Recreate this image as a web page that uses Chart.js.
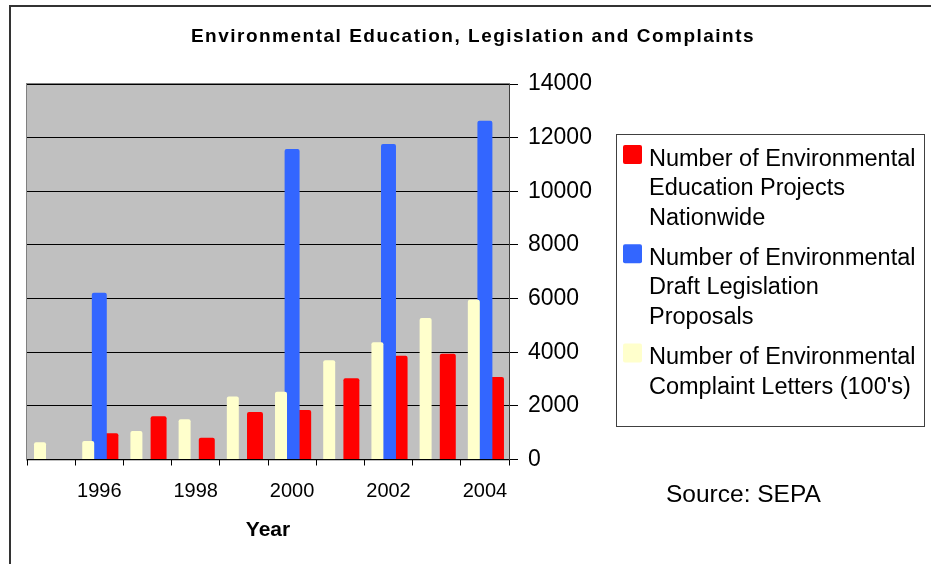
<!DOCTYPE html>
<html>
<head>
<meta charset="utf-8">
<title>Environmental Education, Legislation and Complaints</title>
<script src="https://cdn.jsdelivr.net/npm/chart.js@4.4.1/dist/chart.umd.min.js"></script>
<style>
  html, body { margin: 0; padding: 0; background: #ffffff; }
  #chart { display: block; }
</style>
</head>
<body>
<canvas id="chart" width="931" height="564"></canvas>
<script>
// Data

const YEARS = ['1995', '1996', '1997', '1998', '1999', '2000', '2001', '2002', '2003', '2004'];

const EDUCATION_PROJECTS = [null, 980, 1610, 810, 1770, 1850, 3030, 3870, 3940, 3080];
const DRAFT_LEGISLATION  = [null, 6220, null, null, null, 11580, null, 11760, null, 12630];
const COMPLAINT_LETTERS  = [640, 690, 1060, 1500, 2350, 2530, 3700, 4370, 5280, 5960];

const Y_TICKS = [0, 2000, 4000, 6000, 8000, 10000, 12000, 14000];

const TITLE       = 'Environmental Education, Legislation and Complaints';
const X_TITLE     = 'Year';
const SOURCE_NOTE = 'Source: SEPA';

const LEGEND_LINES = [
  ['Number of Environmental', 'Education Projects', 'Nationwide'],
  ['Number of Environmental', 'Draft Legislation', 'Proposals'],
  ['Number of Environmental', 'Complaint Letters (100\'s)'],
];

const RED    = '#FF0000';
const BLUE   = '#3366FF';
const CREAM  = '#FFFFCC';
const PLOT_BG = '#C0C0C0';
const FONT = '"Liberation Sans", Arial, sans-serif';

Chart.defaults.font.family = FONT;
Chart.defaults.color = '#000000';

// Page decoration: outer frame, grey plot area, title, legend box, source note
const decorations = {
  id: 'decorations',
  beforeDraw(chart) {
    const { ctx, chartArea: a } = chart;
    ctx.save();
    ctx.fillStyle = '#ffffff';
    ctx.fillRect(0, 0, chart.width, chart.height);
    ctx.fillStyle = '#333333';
    ctx.fillRect(9, 5, chart.width - 9, 2);
    ctx.fillRect(9, 5, 2, chart.height - 5);
    ctx.fillStyle = PLOT_BG;
    ctx.fillRect(a.left, a.top, a.right - a.left, a.bottom - a.top);
    ctx.strokeStyle = '#808080';
    ctx.lineWidth = 1;
    ctx.strokeRect(a.left - 0.5, a.top - 0.5, a.right - a.left + 1, a.bottom - a.top + 1);
    ctx.restore();
  },
  afterDraw(chart) {
    const { ctx } = chart;
    ctx.save();
    // title
    ctx.fillStyle = '#000000';
    ctx.font = `bold 19px ${FONT}`;
    ctx.letterSpacing = '1.5px';
    ctx.textAlign = 'center';
    ctx.textBaseline = 'alphabetic';
    ctx.fillText(TITLE, 473, 42);
    ctx.letterSpacing = '0px';

    // legend box
    ctx.strokeStyle = '#404040';
    ctx.lineWidth = 1;
    ctx.strokeRect(616.5, 134.5, 308, 292);
    const colors = [RED, BLUE, CREAM];
    ctx.font = `23.5px ${FONT}`;
    ctx.textAlign = 'left';
    LEGEND_LINES.forEach((lines, i) => {
      const base = 165.5 + i * 99.3;
      ctx.fillStyle = colors[i];
      ctx.beginPath();
      ctx.roundRect(623, base - 20.5, 19, 19, 2);
      ctx.fill();
      ctx.fillStyle = '#000000';
      lines.forEach((t, j) => ctx.fillText(t, 649, base + j * 29.5));
    });

    // source note
    ctx.font = `24.5px ${FONT}`;
    ctx.fillText(SOURCE_NOTE, 666, 502);
    ctx.restore();
  },
};

new Chart(document.getElementById('chart'), {
  type: 'bar',
  data: {
    labels: YEARS,
    datasets: [
      {
        label: LEGEND_LINES[0].join(' '),
        data: EDUCATION_PROJECTS,
        backgroundColor: RED,
        order: 2,
        barPercentage: 1.44,
        categoryPercentage: 0.69,
        borderRadius: 2,
      },
      {
        label: LEGEND_LINES[1].join(' '),
        data: DRAFT_LEGISLATION,
        backgroundColor: BLUE,
        order: 1,
        barPercentage: 1.35,
        categoryPercentage: 0.69,
        borderRadius: 2,
      },
      {
        label: LEGEND_LINES[2].join(' '),
        data: COMPLAINT_LETTERS,
        backgroundColor: CREAM,
        order: 0,
        barPercentage: 1.08,
        categoryPercentage: 0.69,
        borderRadius: 2,
      },
    ],
  },
  options: {
    responsive: false,
    animation: false,
    layout: { padding: { left: 27, top: 84, right: 322, bottom: 0 } },
    plugins: {
      legend:  { display: false },
      title:   { display: false },
      tooltip: { enabled: false },
    },
    scales: {
      x: {
        grid: {
          offset: true,
          drawOnChartArea: false,
          drawTicks: true,
          tickLength: 6,
          color: '#000000',
        },
        border: { color: '#000000', width: 1 },
        ticks: {
          autoSkip: false,
          maxRotation: 0,
          padding: 14,
          font: { size: 20 },
          callback(value) {
            const label = this.getLabelForValue(value);
            return Number(label) % 2 === 0 ? label : '';
          },
        },
        title: {
          display: true,
          text: X_TITLE,
          font: { size: 21, weight: 'bold' },
          padding: { top: 8, bottom: 21 },
        },
        afterFit(scale) { scale.height = 104.5; },
      },
      y: {
        position: 'right',
        min: 0,
        max: 14000,
        afterBuildTicks(scale) { scale.ticks = Y_TICKS.map(v => ({ value: v })); },
        grid: { color: '#000000', tickLength: 9, lineWidth: 1 },
        border: { color: '#404040', width: 1 },
        ticks: { padding: 10, font: { size: 23 }, callback: v => String(v) },
        afterFit(scale) { scale.width = 100; },
      },
    },
  },
  plugins: [decorations],
});
</script>
</body>
</html>
